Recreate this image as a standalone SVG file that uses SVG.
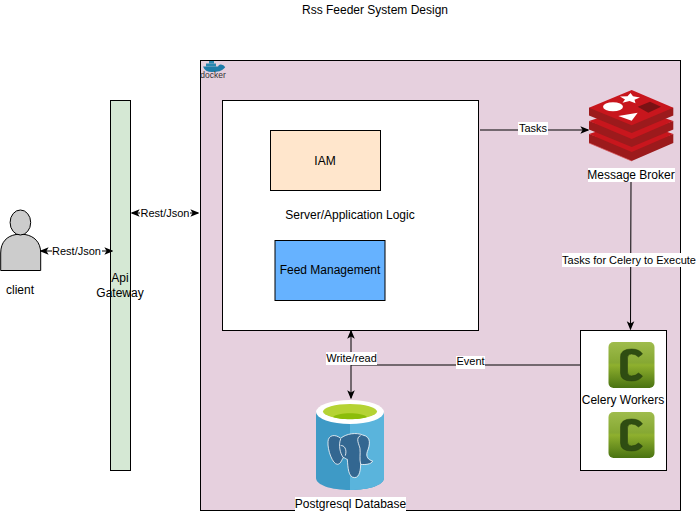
<svg xmlns="http://www.w3.org/2000/svg" width="696" height="512" viewBox="0 0 696 512">
<style>
text{font-family:"Liberation Sans",Arial,sans-serif;font-size:12px;fill:#000;text-anchor:middle}
.small{font-size:11px}
.box{stroke:#000;stroke-width:1}
.line{fill:none;stroke:#000;stroke-width:1}
.lab{fill:#fff}
.side{fill:#9c1a1c}
.face{fill:#c8161d}
.seam{fill:none;stroke:#d9565a;stroke-width:0.700}
</style>
<defs>
<marker id="end" viewBox="0 0 10 10" refX="8.5" refY="5" markerWidth="9" markerHeight="9" markerUnits="userSpaceOnUse" orient="auto-start-reverse"><path d="M0 0.8L10 5L0 9.2L2.5 5Z" fill="#000"/></marker>
<linearGradient id="cel" x1="0" y1="0" x2="0" y2="1"><stop offset="0" stop-color="#9fbc4c"/><stop offset="0.45" stop-color="#86a833"/><stop offset="0.5" stop-color="#8fb02e"/><stop offset="1" stop-color="#4a7312"/></linearGradient>
<g id="celery"><rect width="46" height="46" rx="5" fill="url(#cel)"/><path d="M34 12Q31 7 23 7Q12 7 12 15V31Q12 39 23 39Q31 39 34 34L30 31Q27 34 23 34Q19 34 19 30V16Q19 12 23 12Q27 12 30 15Z" fill="#2f4d12" stroke="#243c0d" stroke-width="0.500"/></g>
</defs>
<rect width="696" height="512" fill="#fff"/>
<text x="375" y="14">Rss Feeder System Design</text>
<g id="docker-boundary">
<rect class="box" x="200.500" y="60.500" width="480" height="450" fill="#e6d0de"/>
<path d="M203 66.500H218Q219 64 221 64.500Q224 65 224.500 66.500Q226 67 224 68.500Q221 72 212 72Q205 72 203 66.500Z" fill="#1f7ca8"/>
<rect x="206" y="63.500" width="10" height="3" fill="#2b88b0"/><rect x="209" y="61" width="5" height="2.500" fill="#2b88b0"/>
<text x="213" y="78" style="font-size:8.500px;fill:#333">docker</text>
</g>
<g id="server">
<rect class="box" x="222.500" y="100.500" width="256" height="230" fill="#fff"/>
<text x="350" y="219">Server/Application Logic</text>
</g>
<g id="iam">
<rect class="box" x="270.500" y="130.500" width="110" height="60" fill="#ffe6cc"/>
<text x="325" y="165">IAM</text>
</g>
<g id="feed">
<rect class="box" x="275" y="240.500" width="110" height="60" fill="#66b2ff"/>
<text x="330" y="274">Feed Management</text>
</g>
<g id="gateway">
<rect class="box" x="110.500" y="100.500" width="20" height="370" fill="#d5e8d4"/>
<text x="120" y="282">Api</text>
<text x="120" y="297">Gateway</text>
</g>
<g id="client">
<path d="M0.700 270.500V253C0.700 242 7 236 16 234.500H25C34 236 40.700 242 40.700 253V270.500Z" fill="#ccc" stroke="#000"/>
<ellipse cx="20.400" cy="222.500" rx="10.300" ry="12.500" fill="#ccc" stroke="#000"/>
<text x="20" y="294">client</text>
</g>
<g id="redis">
<path class="side" d="M589 134V143L631.700 161L673.300 143V134L631.700 148Z"/>
<path class="face" d="M589 134L631.700 120L673.300 134L631.700 152Z"/>
<path class="seam" d="M589 143L631.700 161"/>
<path class="side" d="M589 121V129.500L631.700 147L673.300 129.500V121L631.700 135Z"/>
<path class="face" d="M589 121L631.700 107L673.300 121L631.700 139Z"/>
<path class="side" d="M589 107.700V115.500L631.700 133L673.300 115.500V107.700Z"/>
<path class="face" d="M589 107.700L631.700 90L673.300 107.700L631.700 125.300Z"/>
<path d="M637.700 106.700L650 101.700L661 106.700L648.300 112.700Z" fill="#7a1214"/>
<path d="M620 96.500L627.500 96.300L630.500 93L633 96.300L640 97.500L634.500 99.800L635.500 103.300L629.500 101L622.500 102.700L625 99.500Z" fill="#fff"/>
<ellipse cx="613" cy="106.700" rx="10" ry="4.500" fill="#fff"/>
<path d="M618.300 116L637.700 112.700L631.700 120.700Z" fill="#fff"/>
<rect x="588" y="168" width="87" height="14" fill="#fff"/>
<text x="631" y="179">Message Broker</text>
</g>
<g id="celery-workers">
<rect class="box" x="580.500" y="330.500" width="86" height="140" fill="#fff"/>
<use href="#celery" x="608.500" y="342"/>
<use href="#celery" x="608.500" y="412"/>
<text x="623" y="404">Celery Workers</text>
</g>
<g id="postgres">
<path d="M316 412V478C316 485 331 490 350 490S384 485 384 478V412Z" fill="#3e9ac6"/>
<path d="M350 412V490C369 490 384 485 384 478V412Z" fill="#5ab4dc"/>
<ellipse cx="350" cy="412" rx="34" ry="12" fill="#fff"/>
<ellipse cx="350" cy="411.500" rx="27" ry="7.500" fill="#b5d334"/>
<path d="M333 417C338 412 362 412 367 417C360 420 340 420 333 417Z" fill="#8cbd0a"/>
<g transform="translate(320 425) scale(0.333)" stroke="#fff" stroke-width="2.400" fill="none">
<path d="M62 40C45 26 25 30 24 50C22 75 38 118 52 118C62 118 65 105 70 98C75 98 78 103 82 103C84 125 84 158 104 158C120 158 122 130 122 118C135 120 155 118 158 108C145 105 137 95 142 80C150 60 155 35 128 30C110 22 80 25 62 40Z" fill="#336791"/>
<path d="M62 42C55 60 60 85 70 98M122 32C105 38 118 60 120 70C122 88 118 100 122 118M62 62C72 60 82 72 76 92"/>
</g>
<rect x="295" y="497" width="111" height="14" fill="#fff"/>
<text x="350.500" y="508">Postgresql Database</text>
</g>
<g id="connectors">
<path class="line" d="M41 251H112" marker-start="url(#end)" marker-end="url(#end)"/>
<path class="line" d="M132 213H198" marker-start="url(#end)" marker-end="url(#end)"/>
<path class="line" d="M480 130H588" marker-end="url(#end)"/>
<path class="line" d="M631 182L630.500 329" marker-end="url(#end)"/>
<path class="line" d="M351 331V398" marker-start="url(#end)" marker-end="url(#end)"/>
<path class="line" d="M351 365H580"/>
<rect class="lab" x="52" y="245" width="50" height="13"/><text class="small" x="76.500" y="255">Rest/Json</text>
<rect class="lab" x="140" y="207" width="50" height="13"/><text class="small" x="165" y="217">Rest/Json</text>
<rect class="lab" x="518" y="122" width="30" height="13"/><text class="small" x="533" y="132">Tasks</text>
<rect class="lab" x="562" y="253" width="134" height="14"/><text class="small" x="629" y="264">Tasks for Celery to Execute</text>
<rect class="lab" x="326" y="352" width="51" height="13"/><text class="small" x="351.500" y="362">Write/read</text>
<rect class="lab" x="456" y="356" width="29" height="13"/><text class="small" x="470.500" y="365">Event</text>
</g>
</svg>
